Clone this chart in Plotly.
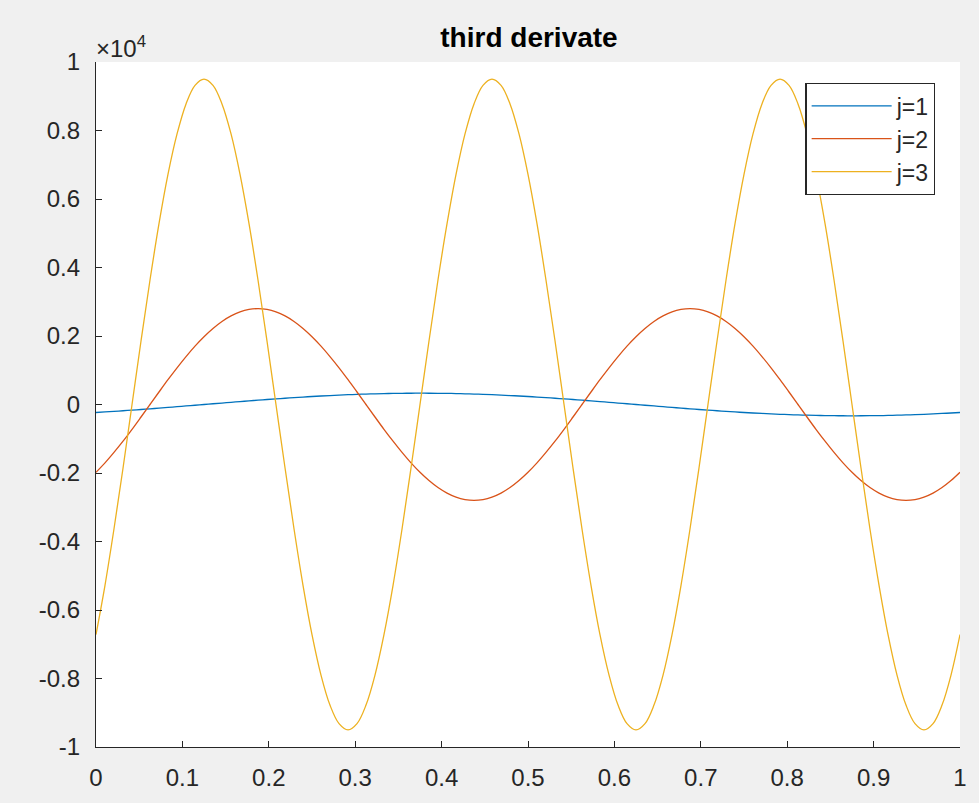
import plotly.graph_objects as go

# x positions (fraction of the interval), read every 1/96
x = [0, 0.0104, 0.0208, 0.0313, 0.0417, 0.0521, 0.0625, 0.0729, 0.0833, 0.0938,
     0.1042, 0.1146, 0.125, 0.1354, 0.1458, 0.1563, 0.1667, 0.1771, 0.1875, 0.1979,
     0.2083, 0.2188, 0.2292, 0.2396, 0.25, 0.2604, 0.2708, 0.2813, 0.2917, 0.3021,
     0.3125, 0.3229, 0.3333, 0.3438, 0.3542, 0.3646, 0.375, 0.3854, 0.3958, 0.4063,
     0.4167, 0.4271, 0.4375, 0.4479, 0.4583, 0.4688, 0.4792, 0.4896, 0.5, 0.5104,
     0.5208, 0.5313, 0.5417, 0.5521, 0.5625, 0.5729, 0.5833, 0.5938, 0.6042, 0.6146,
     0.625, 0.6354, 0.6458, 0.6563, 0.6667, 0.6771, 0.6875, 0.6979, 0.7083, 0.7188,
     0.7292, 0.7396, 0.75, 0.7604, 0.7708, 0.7813, 0.7917, 0.8021, 0.8125, 0.8229,
     0.8333, 0.8438, 0.8542, 0.8646, 0.875, 0.8854, 0.8958, 0.9063, 0.9167, 0.9271,
     0.9375, 0.9479, 0.9583, 0.9688, 0.9792, 0.9896, 1]

y_j1 = [-233, -218, -201, -183, -165, -146, -126, -106, -85, -64,
        -43, -22, 0, 22, 43, 64, 85, 106, 126, 146,
        165, 183, 201, 218, 233, 248, 262, 274, 286, 296,
        305, 312, 319, 324, 327, 329, 330, 329, 327, 324,
        319, 312, 305, 296, 286, 274, 262, 248, 233, 218,
        201, 183, 165, 146, 126, 106, 85, 64, 43, 22,
        0, -22, -43, -64, -85, -106, -126, -146, -165, -183,
        -201, -218, -233, -248, -262, -274, -286, -296, -305, -312,
        -319, -324, -327, -329, -330, -329, -327, -324, -319, -312,
        -305, -296, -286, -274, -262, -248, -233]

y_j2 = [-1980, -1705, -1400, -1072, -725, -365, 0, 365, 725, 1072,
        1400, 1705, 1980, 2221, 2425, 2587, 2705, 2776, 2800, 2776,
        2705, 2587, 2425, 2221, 1980, 1705, 1400, 1072, 725, 365,
        0, -365, -725, -1072, -1400, -1705, -1980, -2221, -2425, -2587,
        -2705, -2776, -2800, -2776, -2705, -2587, -2425, -2221, -1980, -1705,
        -1400, -1072, -725, -365, 0, 365, 725, 1072, 1400, 1705,
        1980, 2221, 2425, 2587, 2705, 2776, 2800, 2776, 2705, 2587,
        2425, 2221, 1980, 1705, 1400, 1072, 725, 365, 0, -365,
        -725, -1072, -1400, -1705, -1980, -2221, -2425, -2587, -2705, -2776,
        -2800, -2776, -2705, -2587, -2425, -2221, -1980]

y_j3 = [-6718, -5278, -3635, -1853, 0, 1853, 3635, 5278, 6718, 7899,
        8777, 9318, 9500, 9318, 8777, 7899, 6718, 5278, 3635, 1853,
        0, -1853, -3635, -5278, -6718, -7899, -8777, -9318, -9500, -9318,
        -8777, -7899, -6718, -5278, -3635, -1853, 0, 1853, 3635, 5278,
        6718, 7899, 8777, 9318, 9500, 9318, 8777, 7899, 6718, 5278,
        3635, 1853, 0, -1853, -3635, -5278, -6718, -7899, -8777, -9318,
        -9500, -9318, -8777, -7899, -6718, -5278, -3635, -1853, 0, 1853,
        3635, 5278, 6718, 7899, 8777, 9318, 9500, 9318, 8777, 7899,
        6718, 5278, 3635, 1853, 0, -1853, -3635, -5278, -6718, -7899,
        -8777, -9318, -9500, -9318, -8777, -7899, -6718]

series_names = ["j=1", "j=2", "j=3"]
series_colors = ["#0072BD", "#D95319", "#EDB120"]

x_ticks = [0, 0.1, 0.2, 0.3, 0.4, 0.5, 0.6, 0.7, 0.8, 0.9, 1]
x_tick_text = ["0", "0.1", "0.2", "0.3", "0.4", "0.5", "0.6", "0.7", "0.8", "0.9", "1"]
y_ticks = [-10000, -8000, -6000, -4000, -2000, 0, 2000, 4000, 6000, 8000, 10000]
y_tick_text = ["-1", "-0.8", "-0.6", "-0.4", "-0.2", "0", "0.2", "0.4", "0.6", "0.8", "1"]

FONT = "Liberation Sans, Arial, Helvetica, sans-serif"
AX = "#262626"

fig = go.Figure()
for name, ys, col in zip(series_names, [y_j1, y_j2, y_j3], series_colors):
    fig.add_trace(go.Scatter(x=x, y=ys, mode="lines", name=name,
                             line=dict(color=col, width=1.3, shape="spline", smoothing=1)))

fig.update_layout(
    width=979, height=803,
    margin=dict(l=96, r=17, t=62, b=56),
    paper_bgcolor="#f0f0f0", plot_bgcolor="white",
    font=dict(family=FONT, size=24, color=AX),
    title=dict(text="<b>third derivate</b>", x=(96 + 433) / 979, xanchor="center",
               y=1 - 37 / 803, yanchor="middle", yref="container",
               font=dict(family=FONT, size=28, color="black")),
    showlegend=True,
    legend=dict(x=0.8210, y=0.9693, xanchor="left", yanchor="top",
                bgcolor="white", bordercolor=AX, borderwidth=1.3,
                font=dict(family=FONT, size=23, color=AX),
                itemwidth=80, tracegroupgap=0),
    xaxis=dict(range=[0, 1], tickvals=x_ticks, ticktext=x_tick_text,
               showline=True, linecolor=AX, linewidth=1.3, mirror=False,
               ticks="inside", ticklen=6, tickcolor=AX, tickwidth=1.3,
               showgrid=False, zeroline=False, ticklabelstandoff=9,
               tickfont=dict(family=FONT, size=24, color=AX)),
    yaxis=dict(range=[-10000, 10000], tickvals=y_ticks, ticktext=y_tick_text,
               showline=True, linecolor=AX, linewidth=1.3, mirror=False,
               ticks="inside", ticklen=6, tickcolor=AX, tickwidth=1.3,
               showgrid=False, zeroline=False, ticklabelstandoff=10,
               tickfont=dict(family=FONT, size=24, color=AX)),
)

fig.add_annotation(xref="paper", yref="paper", x=0, y=1, xanchor="left", yanchor="bottom",
                   text="×10<sup>4</sup>", showarrow=False, xshift=-2, yshift=-2,
                   font=dict(family=FONT, size=24, color=AX))

fig.write_html("out.html")
